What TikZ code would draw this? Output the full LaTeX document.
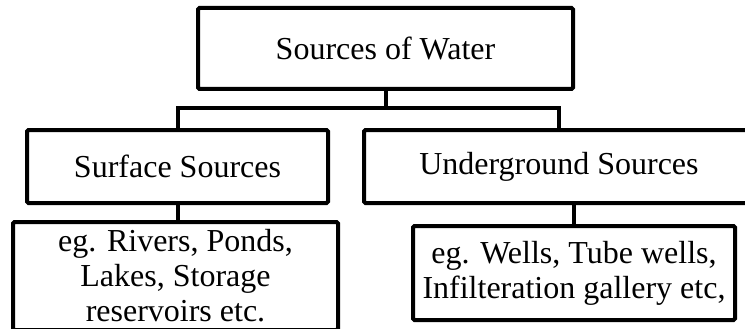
\documentclass[tikz,border=0pt]{standalone}
\usepackage{fontspec}
\setmainfont{Liberation Serif}
\begin{document}
\begin{tikzpicture}[x=1pt,y=-1pt,
  box/.style={draw,line width=4pt,rounded corners=1.5pt,inner sep=0pt,
    align=center,font=\fontsize{32}{35}\selectfont},
  wire/.style={line width=4pt}]
\useasboundingbox (0,0) rectangle (745,329);
\clip (0,0) rectangle (745,329);
\node[box,minimum width=375pt,minimum height=81pt] (top) at (385.5,48.5) {Sources of Water};
\node[box,minimum width=301pt,minimum height=73pt] (surf) at (177.5,166.5) {Surface Sources};
\node[box,minimum width=390pt,minimum height=73pt] (under) at (559,166.5) {Underground Sources};
\node[box,minimum width=325pt,minimum height=108pt] (ex1) at (175.5,276) {eg. Rivers, Ponds,\\Lakes, Storage\\reservoirs etc.};
\node[box,minimum width=322pt,minimum height=94pt] (ex2) at (574,273) {eg. Wells, Tube wells,\\Infilteration gallery etc,};
\coordinate (bus) at (385.5,108);
\draw[wire] (top.south) -- (bus);
\draw[wire] (surf.north) |- (bus) -| (under.north);
\draw[wire] (surf.south) -- (surf.south |- ex1.north);
\draw[wire] (ex2.north) -- (ex2.north |- under.south);
\end{tikzpicture}
\end{document}
